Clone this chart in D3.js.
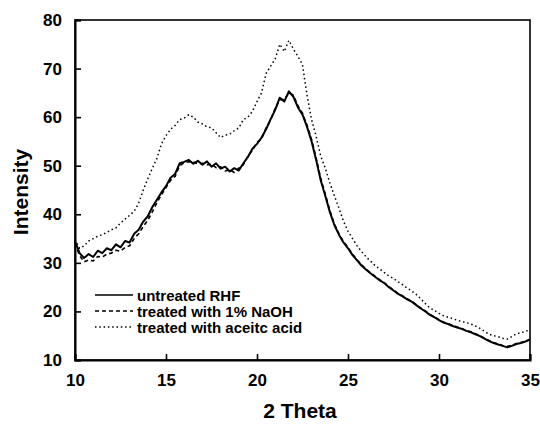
<!DOCTYPE html>
<html>
<head>
<meta charset="utf-8">
<script src="https://cdn.jsdelivr.net/npm/d3@7/dist/d3.min.js"></script>
<style>
  body { margin: 0; background: #fff; }
  svg { display: block; }
  text { font-family: "Liberation Sans", Arial, sans-serif; font-weight: bold; fill: #000; }
</style>
</head>
<body>
<svg id="chart" width="540" height="425"></svg>
<script>
const theta = [10,10.25,10.5,10.75,11,11.25,11.5,11.75,12,12.25,12.5,12.75,13,13.25,13.5,13.75,14,14.25,14.5,14.75,
  15,15.25,15.5,15.75,16,16.25,16.5,16.75,17,17.25,17.5,17.75,18,18.25,18.5,18.75,19,19.25,19.5,19.75,
  20,20.25,20.5,20.75,21,21.25,21.5,21.75,22,22.25,22.5,22.75,23,23.25,23.5,23.75,24,24.25,24.5,24.75,
  25,25.25,25.5,25.75,26,26.25,26.5,26.75,27,27.25,27.5,27.75,28,28.25,28.5,28.75,29,29.25,29.5,29.75,
  30,30.25,30.5,30.75,31,31.25,31.5,31.75,32,32.25,32.5,32.75,33,33.25,33.5,33.75,34,34.25,34.5,34.75,35];

const untreated = [34.5,32,31,31.8,31.2,32.5,32,33,32.6,33.8,33.2,34.5,34.2,36,36.8,38.5,39.6,41.5,43,44.5,
  45.8,47.5,48.3,50.5,50.8,51.2,50.4,51,50.2,50.9,49.8,50.5,49.4,49.8,48.8,49.5,49,50.5,51.8,53.5,
  54.5,55.8,57.5,59.6,61.5,64,63.2,65.3,64.2,62,60.5,58,55,51.2,47,43.8,40.5,37.8,35.8,34.2,
  33,31.6,30.5,29.4,28.6,27.8,27.1,26.4,25.8,25,24.3,23.6,23.1,22.5,22,21.3,20.6,20,19.3,18.8,
  18.2,17.7,17.4,17,16.7,16.4,16,15.7,15.3,14.9,14.4,13.9,13.5,13.2,12.9,12.6,12.9,13.3,13.5,13.8,14.2];

const naoh = [34,31.5,30.2,30.6,30.4,31.3,31.2,31.8,32,32.6,32.4,33.2,33.5,35,36,37.5,38.8,40.5,42.4,44,
  45.5,47,47.8,50,50.6,50.8,50.8,50.4,50.5,50.2,50.3,49.6,49.8,48.9,49.2,48.6,49.5,50.2,52,53.2,
  54.8,55.5,57.8,59.4,61.8,63.6,63.6,65,64.5,62.3,60.8,58.3,55.4,51.6,47.4,44.2,40.8,38,36,34.4,
  33.2,31.8,30.6,29.6,28.7,27.9,27.2,26.5,25.9,25.1,24.4,23.7,23.2,22.6,22.1,21.4,20.7,20.1,19.4,18.9,
  18.3,17.8,17.5,17.1,16.8,16.5,16.1,15.8,15.4,15,14.5,14,13.6,13.3,13,12.8,13,13.4,13.6,13.9,14.3];

const acetic = [34.8,33,33.5,34.5,35,35.5,35.8,36.3,36.8,37.2,38.2,39,39.8,40.6,42.3,45,47.3,49.5,51.5,54.5,
  56.2,57.5,58.3,59.5,59.8,60.5,60,59,58.6,58,57.8,56.8,55.8,56.3,56.5,57.2,57.8,59.5,60,61.2,
  63.2,65,69,70.5,72,75,73.5,75.8,74,72.5,70.8,64.5,59.5,56,52,49.5,46.5,43.8,41.3,38.6,
  36.5,35,33.5,32.3,31.2,30.3,29.4,28.7,28,27.3,26.8,26.1,25.5,24.8,24.2,23.5,22.6,21.6,20.7,20.2,
  19.6,19.1,18.8,18.5,18.2,17.9,17.7,17.4,17,16.5,15.9,15.3,15,14.8,14.5,14.3,14.8,15.4,15.6,15.9,16.2];

const xTicks = [10,15,20,25,30,35];
const yTicks = [10,20,30,40,50,60,70,80];
const seriesNames = ["untreated RHF","treated with 1% NaOH","treated with aceitc acid"];
const xLabel = "2 Theta";
const yLabel = "Intensity";

const svg = d3.select("#chart");
const pL = 75, pR = 530, pT = 20, pB = 360;

const x = d3.scaleLinear().domain([10,35]).range([pL,pR]);
const y = d3.scaleLinear().domain([10,80]).range([pB,pT]);

// frame
svg.append("rect").attr("x", pL).attr("y", pT)
  .attr("width", pR-pL).attr("height", pB-pT)
  .attr("fill","none").attr("stroke","#000").attr("stroke-width",1.6);

// axes (inward ticks)
const xAxis = svg.append("g").attr("transform",`translate(0,${pB})`)
  .call(d3.axisBottom(x).tickValues(xTicks).tickSize(-6).tickPadding(14).tickFormat(d3.format("d")));
const yAxis = svg.append("g").attr("transform",`translate(${pL},0)`)
  .call(d3.axisLeft(y).tickValues(yTicks).tickSize(-6).tickPadding(13).tickFormat(d3.format("d")));
[xAxis,yAxis].forEach(a=>{
  a.select(".domain").attr("stroke","#000").attr("stroke-width",2);
  a.selectAll(".tick line").attr("stroke","#000").attr("stroke-width",1.6);
  a.selectAll(".tick text").style("font-family","'Liberation Sans', Arial, sans-serif")
    .style("font-weight","bold").style("font-size","17px").attr("fill","#000");
});
xAxis.selectAll(".tick text").attr("dy","0.71em");

// lines
const mk = vals => d3.line().x((d,i)=>x(theta[i])).y(d=>y(d))(vals);
const styles = [
  {data: untreated, w: 2.0, dash: null},
  {data: naoh, w: 1.6, dash: "4,3"},
  {data: acetic, w: 1.5, dash: "1.5,2.8"}
];
styles.slice().reverse().forEach(s=>{
  svg.append("path").attr("d", mk(s.data)).attr("fill","none")
    .attr("stroke","#000").attr("stroke-width", s.w)
    .attr("stroke-dasharray", s.dash).attr("stroke-linejoin","round");
});

// legend
const legY = [295, 311, 327];
seriesNames.forEach((n,i)=>{
  svg.append("line").attr("x1",95).attr("x2",133).attr("y1",legY[i]).attr("y2",legY[i])
    .attr("stroke","#000").attr("stroke-width", i===0?1.3:1.5)
    .attr("stroke-dasharray", styles[i].dash);
  svg.append("text").attr("x",137).attr("y",legY[i]+5.5).style("font-size","15px").text(n);
});

// axis titles
svg.append("text").attr("x",300).attr("y",418).attr("text-anchor","middle")
  .style("font-size","21px").text(xLabel);
svg.append("text").attr("transform","translate(28,192) rotate(-90)").attr("text-anchor","middle")
  .style("font-size","21px").text(yLabel);
</script>
</body>
</html>
